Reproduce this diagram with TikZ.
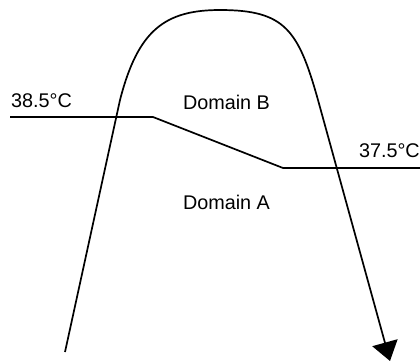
\documentclass[tikz,border=0pt]{standalone}
\usepackage{fontspec}
\setmainfont{Liberation Sans}
\usetikzlibrary{arrows.meta}
\tikzset{
  templabel/.style={inner sep=0pt, font=\fontsize{19.8bp}{24bp}\selectfont},
  curveline/.style={line width=1.7bp},
  boundline/.style={line width=1.7bp}
}
\begin{document}
\begin{tikzpicture}[x=1bp,y=-1bp]
    \useasboundingbox (0,0) rectangle (420,362);
    \coordinate (start) at (65,352);
    \coordinate (lshoulder) at (120,100);
    \coordinate (top) at (220,10);
    \coordinate (rshoulder) at (318,100);
    \coordinate (tip) at (390,361);
    \draw[curveline, -{Triangle[width=26bp,length=19bp]}] (start) -- (lshoulder)
      .. controls (138,30) and (165,10) .. (top)
      .. controls (285,10) and (298.4,30) .. (rshoulder) -- (tip);
    \coordinate (hleft) at (10,117);
    \coordinate (kneeb) at (153,117);
    \coordinate (kneea) at (283,168);
    \coordinate (hright) at (420,168);
    \draw[boundline] (hleft) -- (kneeb) -- (kneea) -- (hright);
    \node[templabel, anchor=base west] (high) at (11,107) {38.5°C};
    \node[templabel, anchor=base east] (low) at (420,157) {37.5°C};
    \node[templabel, anchor=base] (domb) at (226.5,109) {Domain B};
    \node[templabel, anchor=base] (doma) at (226.5,209) {Domain A};
  \end{tikzpicture}
\end{document}
